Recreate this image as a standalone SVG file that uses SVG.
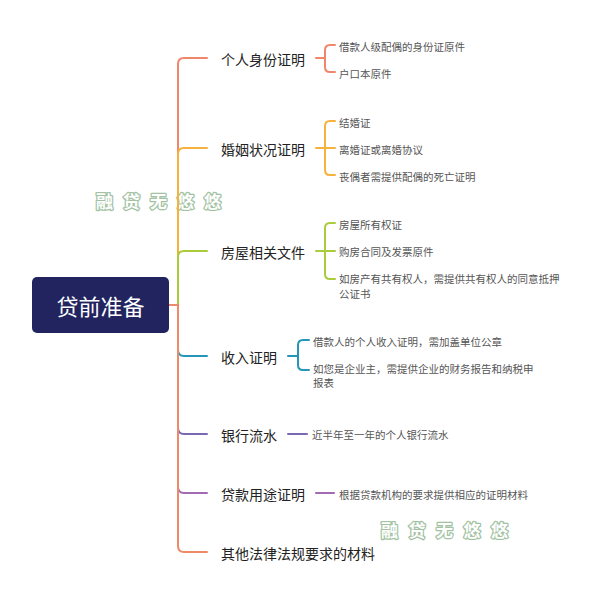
<svg xmlns="http://www.w3.org/2000/svg" width="592" height="601" viewBox="0 0 592 601">
<style>
.bg{fill:#ffffff}
.c{fill:none;stroke-width:2;stroke-linecap:round;stroke-linejoin:round}
.t1{font-family:"Noto Sans CJK SC","Noto Sans",sans-serif;font-size:14px;fill:#222222;dominant-baseline:central}
.t2{font-family:"Noto Sans CJK SC","Noto Sans",sans-serif;font-size:10.5px;fill:#555555;dominant-baseline:central}
.wm{font-family:"Noto Sans CJK SC",sans-serif;font-size:17px;font-weight:bold;fill:#ffffff;stroke:#a3c2a3;stroke-width:2.6;paint-order:stroke;stroke-linejoin:round;text-anchor:middle;dominant-baseline:central}
.root{font-family:"Noto Sans CJK SC","Noto Sans",sans-serif;font-size:22px;fill:#ffffff;text-anchor:middle;dominant-baseline:central}
</style>
<rect class="bg" x="0" y="0" width="592" height="601"/>
<g id="watermarks">
<text class="wm" x="104.5" y="200">融</text><text class="wm" x="131.5" y="200">贷</text><text class="wm" x="158.5" y="200">无</text><text class="wm" x="185.5" y="200">悠</text><text class="wm" x="212.5" y="200">悠</text>
<text class="wm" x="389.5" y="529">融</text><text class="wm" x="417" y="529">贷</text><text class="wm" x="444.5" y="529">无</text><text class="wm" x="472" y="529">悠</text><text class="wm" x="499.5" y="529">悠</text>
</g>
<g id="connectors">
<path class="c" stroke="#f0876a" d="M178,305 V64 Q178,58 184,58 H207"/>
<path class="c" stroke="#f6b23c" d="M178,305 V154 Q178,148 184,148 H207"/>
<path class="c" stroke="#aacb3a" d="M178,305 V257 Q178,251 184,251 H207"/>
<path class="c" stroke="#2596b8" d="M178,305 V350 Q178,356 184,356 H207"/>
<path class="c" stroke="#7b68b5" d="M178,305 V428 Q178,434 184,434 H207"/>
<path class="c" stroke="#a26ab2" d="M178,305 V487 Q178,493 184,493 H207"/>
<path class="c" stroke="#ef8a68" d="M168,305 H178 V546 Q178,552 184,552 H207"/>
<path class="c" stroke="#f0876a" d="M316,58 H324 M335,45 H330 Q325,45 325,50 V67 Q325,72 330,72 H335"/>
<path class="c" stroke="#f6b23c" d="M316,148 H335 M335,121 H330 Q325,121 325,126 V170 Q325,175 330,175 H335"/>
<path class="c" stroke="#aacb3a" d="M316,251 H335 M335,223 H330 Q325,223 325,228 V274 Q325,279 330,279 H335"/>
<path class="c" stroke="#2596b8" d="M288,356 H297 M309,340 H303 Q298,340 298,345 V365 Q298,370 303,370 H309"/>
<path class="c" stroke="#7b68b5" d="M288,434 H307"/>
<path class="c" stroke="#a26ab2" d="M316,493 H334"/>
</g>
<g id="root">
<rect x="32" y="277" width="137" height="56" rx="5" fill="#21245f"/>
<text class="root" x="100.5" y="305">贷前准备</text>
</g>
<g id="n1"><text class="t1" x="221" y="59">个人身份证明</text>
<text class="t2" x="339" y="46">借款人级配偶的身份证原件</text>
<text class="t2" x="339" y="73">户口本原件</text></g>
<g id="n2"><text class="t1" x="221" y="149">婚姻状况证明</text>
<text class="t2" x="339" y="122">结婚证</text>
<text class="t2" x="339" y="149">离婚证或离婚协议</text>
<text class="t2" x="339" y="176">丧偶者需提供配偶的死亡证明</text></g>
<g id="n3"><text class="t1" x="221" y="252">房屋相关文件</text>
<text class="t2" x="339" y="224">房屋所有权证</text>
<text class="t2" x="339" y="251">购房合同及发票原件</text>
<text class="t2" x="339" y="278">如房产有共有权人，需提供共有权人的同意抵押</text>
<text class="t2" x="339" y="293">公证书</text></g>
<g id="n4"><text class="t1" x="221" y="357">收入证明</text>
<text class="t2" x="313" y="341">借款人的个人收入证明，需加盖单位公章</text>
<text class="t2" x="313" y="368">如您是企业主，需提供企业的财务报告和纳税申</text>
<text class="t2" x="313" y="382">报表</text></g>
<g id="n5"><text class="t1" x="221" y="435">银行流水</text>
<text class="t2" x="312" y="434">近半年至一年的个人银行流水</text></g>
<g id="n6"><text class="t1" x="221" y="494">贷款用途证明</text>
<text class="t2" x="339" y="494">根据贷款机构的要求提供相应的证明材料</text></g>
<g id="n7"><text class="t1" x="221" y="553">其他法律法规要求的材料</text></g>
</svg>
